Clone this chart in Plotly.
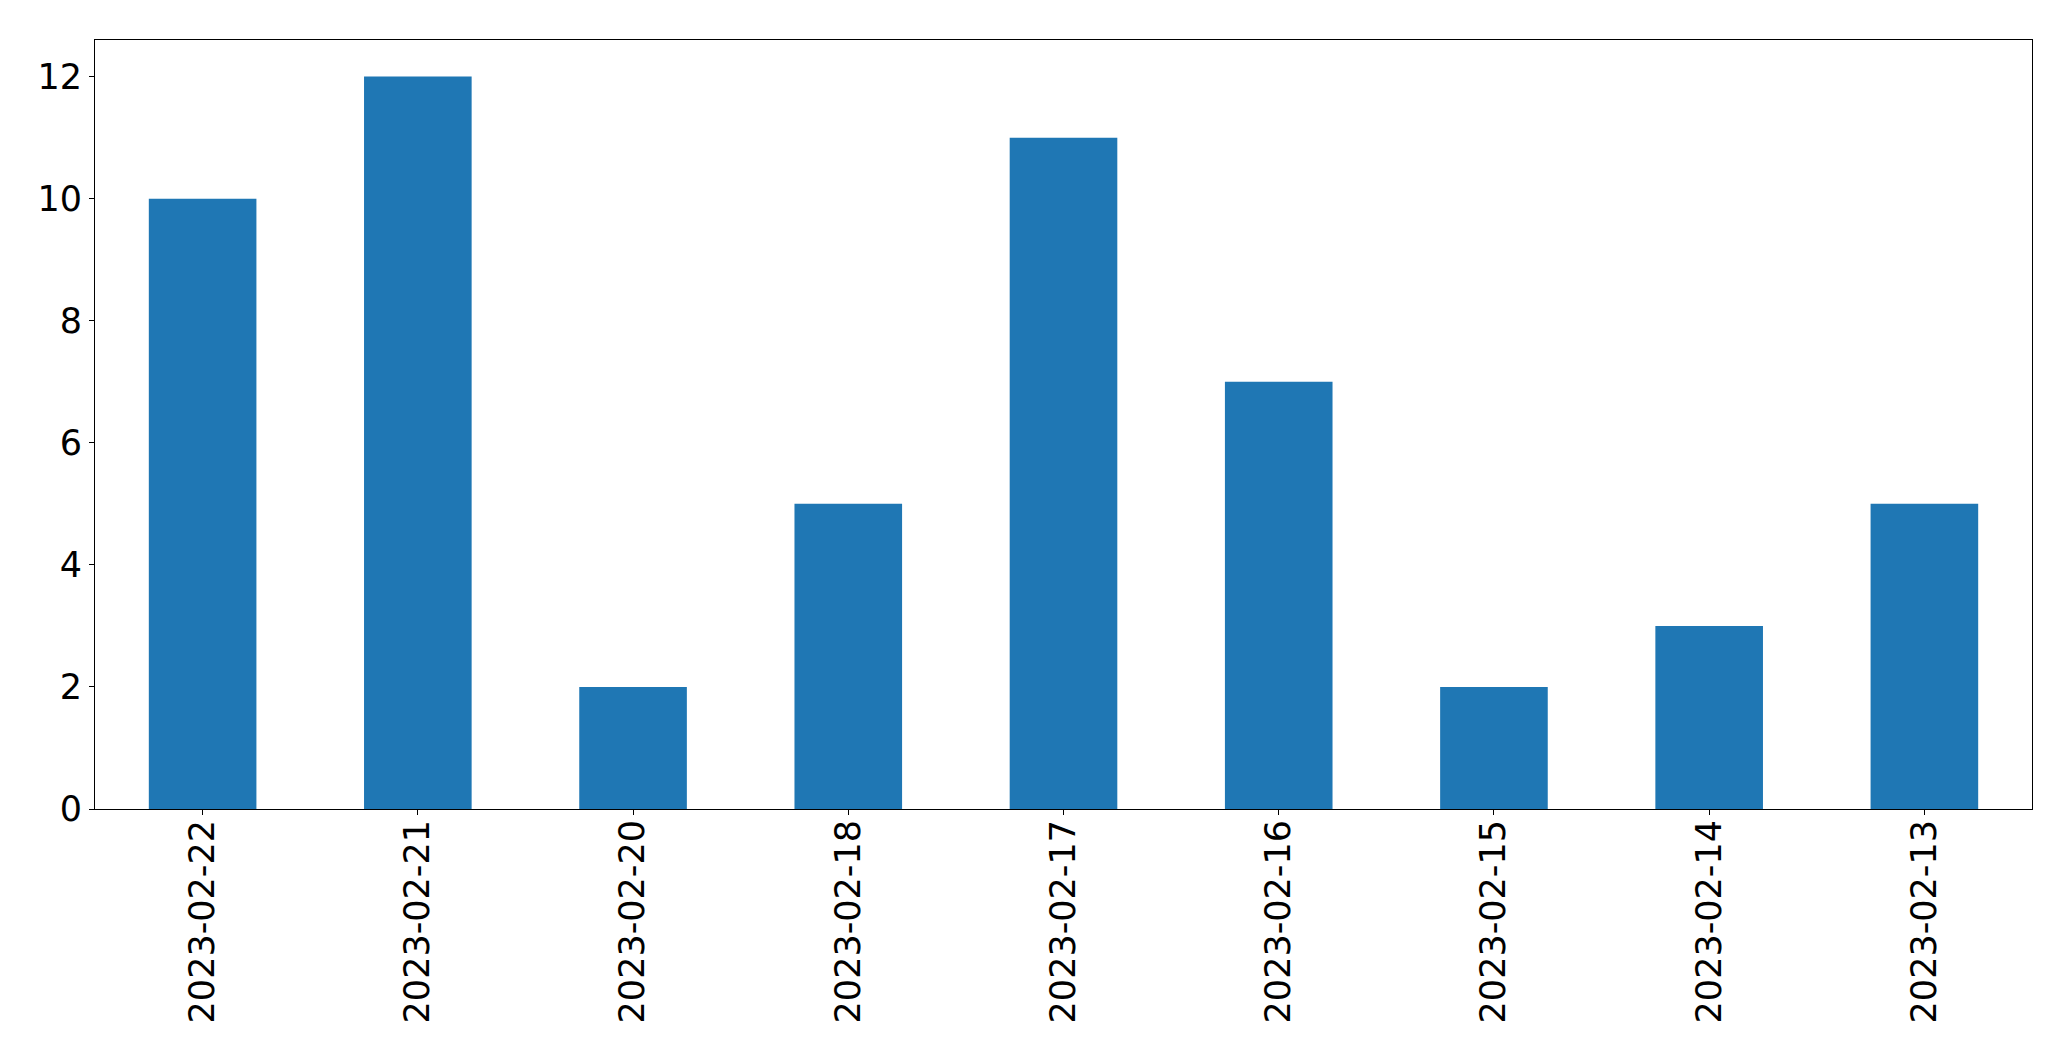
import plotly.graph_objects as go

dates = ["2023-02-22", "2023-02-21", "2023-02-20", "2023-02-18", "2023-02-17",
         "2023-02-16", "2023-02-15", "2023-02-14", "2023-02-13"]
counts = [10, 12, 2, 5, 11, 7, 2, 3, 5]
y_ticks = [0, 2, 4, 6, 8, 10, 12]

fig = go.Figure(go.Bar(x=dates, y=counts, marker_color="#1f77b4", marker_line_width=0))

# page body has an 8px margin; compensate so the plot lands where the reference has it
fig.update_layout(
    width=2063, height=1053,
    margin=dict(l=86.5, r=39, t=31.5, b=251.7, pad=0),
    paper_bgcolor="white", plot_bgcolor="white",
    bargap=0.5, showlegend=False,
    font=dict(family="DejaVu Sans", size=35, color="black"),
)
fig.update_xaxes(
    type="category", range=[-0.5, 8.5], tickangle=-90,
    showline=True, linecolor="black", linewidth=1, mirror=True,
    ticks="outside", ticklen=5, tickcolor="black", showgrid=False,
    ticklabelstandoff=-9,
)
fig.update_yaxes(
    range=[0, 12.6], tickvals=y_ticks,
    showline=True, linecolor="black", linewidth=1, mirror=True,
    ticks="outside", ticklen=5, tickcolor="black", showgrid=False, zeroline=False,
    ticklabelstandoff=0,
)
fig.write_html("out.html")
